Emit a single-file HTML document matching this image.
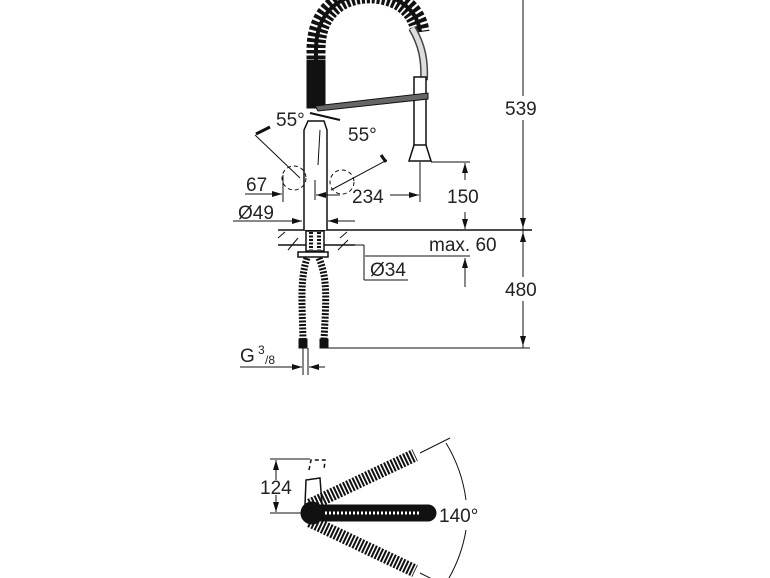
<!DOCTYPE html>
<html><head><meta charset="utf-8"><style>
html,body{margin:0;padding:0;background:#fff;}
svg{display:block}
text{font-family:"Liberation Sans",sans-serif;font-size:19px;fill:#222}
</style></head><body>
<svg width="770" height="578" viewBox="0 0 770 578" xmlns="http://www.w3.org/2000/svg">
<defs>
<marker id="a" markerWidth="10" markerHeight="6" refX="10" refY="3" orient="auto" markerUnits="userSpaceOnUse"><path d="M0,0 L10,3 L0,6 z" fill="#111"/></marker>
</defs>
<g stroke="#111" stroke-width="1" fill="none">
<!-- main vertical dim -->
<line x1="523" y1="0" x2="523" y2="348"/>
<line x1="523" y1="120" x2="523" y2="228" marker-end="url(#a)"/>
<line x1="523" y1="300" x2="523" y2="232" marker-end="url(#a)"/>
<line x1="523" y1="300" x2="523" y2="346" marker-end="url(#a)"/>
<line x1="278" y1="230" x2="532" y2="230" stroke-width="1.5"/>
<line x1="278" y1="245" x2="355" y2="245" stroke-width="1.5"/>
<line x1="327" y1="348" x2="530" y2="348"/>
<!-- coil -->
<path d="M316,70 L316,50 C316,8 345,-8 375,-6 C405,-3 418,15 420,32" stroke="#111" stroke-width="19" stroke-dasharray="3.5,2"/>
<path d="M316,70 L316,50 C316,8 345,-8 375,-6 C405,-3 418,15 420,32" stroke="#111" stroke-width="4"/>
<rect x="307" y="60" width="18" height="48" fill="#111"/>
<path d="M412,28 C422,45 425,60 424,80" stroke-width="8" stroke="#444"/>
<path d="M412,28 C422,45 425,60 424,80" stroke-width="5" stroke="#ddd"/>
<!-- spray head -->
<rect x="414" y="77" width="12" height="70" fill="#fff" stroke-width="1.5"/>
<path d="M414,145 L409,161 L431,161 L426,145 z" fill="#fff" stroke-width="1.5"/>
<!-- arm -->
<path d="M315,106 L428,93 L428,99 L318,111 z" fill="#666" stroke-width="1"/>
<!-- body -->
<path d="M304,230 L304,130 L308,121 L324,121 L327,130 L327,230" fill="#fff" stroke-width="1.5"/>
<line x1="320" y1="130" x2="318" y2="165"/>
<!-- 55 deg lines -->
<line x1="255" y1="135" x2="300" y2="178"/>
<line x1="256" y1="134" x2="270" y2="127" stroke-width="3"/>
<line x1="331" y1="190" x2="387" y2="160"/>
<line x1="381" y1="155" x2="386" y2="162" stroke-width="3"/>
<line x1="310" y1="113" x2="340" y2="120" stroke-width="2"/>
<circle cx="294" cy="178" r="12" stroke-dasharray="4,3"/>
<circle cx="342" cy="182" r="12" stroke-dasharray="4,3"/>
<!-- 67 -->
<line x1="283" y1="175" x2="283" y2="202"/>
<line x1="245" y1="194" x2="282" y2="194" marker-end="url(#a)"/>
<!-- 234 -->
<line x1="315" y1="180" x2="315" y2="200"/>
<line x1="340" y1="195" x2="316" y2="195" marker-end="url(#a)"/>
<line x1="390" y1="195" x2="419" y2="195" marker-end="url(#a)"/>
<line x1="420" y1="162" x2="420" y2="202"/>
<!-- 150 -->
<line x1="431" y1="162" x2="470" y2="162"/>
<line x1="465" y1="180" x2="465" y2="163" marker-end="url(#a)"/>
<line x1="465" y1="212" x2="465" y2="229" marker-end="url(#a)"/>
<!-- 49 -->
<line x1="233" y1="221" x2="302" y2="221" marker-end="url(#a)"/>
<line x1="355" y1="221" x2="328" y2="221" marker-end="url(#a)"/>
<!-- hatch -->
<line x1="278" y1="238" x2="285" y2="232"/><line x1="340" y1="238" x2="347" y2="232"/>
<line x1="288" y1="250" x2="298" y2="238"/><line x1="338" y1="250" x2="348" y2="240"/>
<!-- under counter -->
<rect x="306" y="231" width="18" height="20" fill="#fff" stroke-width="1.5"/>
<line x1="311" y1="232" x2="311" y2="250" stroke-width="4" stroke-dasharray="2,1.5"/>
<line x1="319" y1="232" x2="319" y2="250" stroke-width="4" stroke-dasharray="2,1.5"/>
<rect x="298" y="252" width="30" height="5" fill="#fff" stroke-width="1.5"/>
<line x1="325" y1="245" x2="364" y2="245"/>
<line x1="364" y1="245" x2="364" y2="280"/>
<line x1="364" y1="280" x2="408" y2="280"/>
<line x1="365" y1="256" x2="470" y2="256"/>
<line x1="465" y1="287" x2="465" y2="258" marker-end="url(#a)"/>
<!-- hoses -->
<path d="M307,258 C300,280 302,300 303,340" stroke="#111" stroke-width="7" stroke-dasharray="2,1.5"/>
<path d="M319,258 C328,280 326,300 324,340" stroke="#111" stroke-width="7" stroke-dasharray="2,1.5"/>
<rect x="299" y="339" width="8" height="9" fill="#111"/>
<rect x="320" y="339" width="8" height="9" fill="#111"/>
<line x1="303" y1="348" x2="303" y2="375"/><line x1="308" y1="348" x2="308" y2="375"/>
<line x1="240" y1="367" x2="302" y2="367" marker-end="url(#a)"/>
<line x1="325" y1="367" x2="309" y2="367" marker-end="url(#a)"/>
<!-- bottom view -->
<line x1="270" y1="459" x2="310" y2="459"/>
<line x1="270" y1="513" x2="305" y2="513"/>
<line x1="276" y1="480" x2="276" y2="460" marker-end="url(#a)"/>
<line x1="276" y1="495" x2="276" y2="512" marker-end="url(#a)"/>
<path d="M305,505 L306,480 L320,478 L322,505" stroke-width="1.5"/>
<path d="M309,470 L311,460 L325,460 L324,470" stroke-dasharray="4,3" stroke-width="1.5"/>
<line x1="310" y1="505" x2="415" y2="455" stroke="#111" stroke-width="13" stroke-dasharray="2,1.5"/>
<line x1="310" y1="521" x2="415" y2="571" stroke="#111" stroke-width="13" stroke-dasharray="2,1.5"/>
<line x1="315" y1="513" x2="428" y2="513" stroke="#111" stroke-width="17" stroke-linecap="round"/>
<line x1="325" y1="513" x2="420" y2="513" stroke="#fff" stroke-width="3" stroke-dasharray="2,2"/>
<circle cx="312" cy="513" r="11" fill="#111"/>
<line x1="420" y1="453" x2="450" y2="438"/>
<line x1="420" y1="573" x2="450" y2="588"/>
<path d="M446,443 A145,145 0 0 1 466,500"/>
<path d="M466,530 A145,145 0 0 1 446,583"/>
</g>
<rect x="503" y="96" width="40" height="24" fill="#fff"/>
<rect x="503" y="277" width="40" height="24" fill="#fff"/>
<text x="505" y="115">539</text>
<text x="505" y="296">480</text>
<text x="276" y="126">55°</text>
<text x="348" y="141">55°</text>
<text x="246" y="191">67</text>
<text x="352" y="203">234</text>
<text x="447" y="203">150</text>
<text x="238" y="219">Ø49</text>
<text x="429" y="251">max. 60</text>
<text x="370" y="276">Ø34</text>
<text x="240" y="362">G</text><text x="258" y="354" style="font-size:12px">3</text><text x="265" y="364" style="font-size:12px">/8</text>
<text x="260" y="494">124</text>
<text x="439" y="522">140°</text>
</svg>
</body></html>
